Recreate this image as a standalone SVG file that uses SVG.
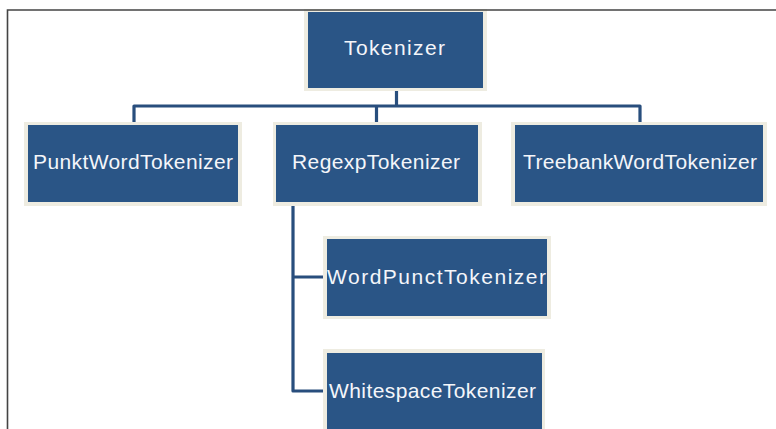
<svg xmlns="http://www.w3.org/2000/svg" width="776" height="429" viewBox="0 0 776 429">
  <style>
    .outer { fill: #eeece1; }
    .inner { fill: #2a5586; }
    .lbl { fill: #f4f6fa; font-family: "Liberation Sans", Arial, sans-serif; font-size: 21px; text-anchor: start; }
    .conn { fill: none; stroke: #284e7d; stroke-width: 3.2; stroke-linejoin: round; }
    .frame { fill: none; stroke: #444444; stroke-width: 1.6; }
  </style>
  <rect x="0" y="0" width="776" height="429" fill="#ffffff"/>
  <g id="connectors">
    <path class="conn" d="M396.5,91 V105 M134,122 V106 H640 V122 M376.5,106 V122"/>
    <path class="conn" d="M293,206 V391 H327 M293,277 H327"/>
  </g>
  <g id="node-tokenizer">
    <rect class="outer" x="304" y="9" width="183" height="82"/>
    <rect class="inner" x="308" y="12" width="175" height="76"/>
    <text class="lbl" x="344" y="55" font-size="22" textLength="101" lengthAdjust="spacing">Tokenizer</text>
  </g>
  <g id="node-punkt">
    <rect class="outer" x="24" y="122" width="218" height="84"/>
    <rect class="inner" x="28" y="125" width="210" height="77"/>
    <text class="lbl" x="33" y="169" textLength="200" lengthAdjust="spacing">PunktWordTokenizer</text>
  </g>
  <g id="node-regexp">
    <rect class="outer" x="273" y="122" width="209" height="84"/>
    <rect class="inner" x="276" y="125" width="202" height="77"/>
    <text class="lbl" x="292" y="169" textLength="168" lengthAdjust="spacing">RegexpTokenizer</text>
  </g>
  <g id="node-treebank">
    <rect class="outer" x="511" y="122" width="256" height="84"/>
    <rect class="inner" x="515" y="125" width="248" height="77"/>
    <text class="lbl" x="523" y="169" textLength="234" lengthAdjust="spacing">TreebankWordTokenizer</text>
  </g>
  <g id="node-wordpunct">
    <rect class="outer" x="323" y="236" width="228" height="83"/>
    <rect class="inner" x="327" y="239" width="220" height="77"/>
    <text class="lbl" x="327" y="284" textLength="219" lengthAdjust="spacing">WordPunctTokenizer</text>
  </g>
  <g id="node-whitespace">
    <rect class="outer" x="323" y="349" width="222" height="84"/>
    <rect class="inner" x="327" y="353" width="215" height="80"/>
    <text class="lbl" x="329" y="398" textLength="207" lengthAdjust="spacing">WhitespaceTokenizer</text>
  </g>
  <path class="frame" d="M7.5,429 V10 H776"/>
</svg>
